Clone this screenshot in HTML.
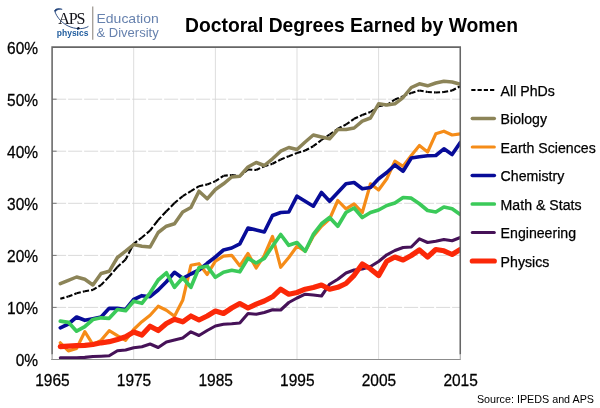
<!DOCTYPE html>
<html><head><meta charset="utf-8"><title>Doctoral Degrees Earned by Women</title>
<style>
html,body{margin:0;padding:0;background:#fff;}
body{width:600px;height:408px;position:relative;overflow:hidden;font-family:"Liberation Sans",sans-serif;}
svg text{font-family:"Liberation Sans",sans-serif;fill:#000;}
.ax,.lg{stroke:#000;stroke-width:0.25px;}
.ax{font-size:15.5px;}
.lg{font-size:14.15px;}
.ti{font-size:19.3px;font-weight:bold;}
.src{font-size:10.75px;}
svg text.aps{font-family:"Liberation Serif",serif;font-size:16px;letter-spacing:-1.1px;fill:#111118;}
svg text.phy{font-size:8.5px;font-weight:bold;fill:#1f5c9e;}
svg text.edu{font-size:13px;fill:#6782ae;}
</style></head><body>
<svg width="600" height="408" viewBox="0 0 600 408" style="position:absolute;left:0;top:0;will-change:transform;opacity:0.999">
<rect x="0" y="0" width="600" height="408" fill="#ffffff"/>
<line x1="133.7" y1="47.1" x2="133.7" y2="359.5" stroke="#d9d9d9" stroke-width="0.9"/>
<line x1="215.4" y1="47.1" x2="215.4" y2="359.5" stroke="#d9d9d9" stroke-width="0.9"/>
<line x1="297.0" y1="47.1" x2="297.0" y2="359.5" stroke="#d9d9d9" stroke-width="0.9"/>
<line x1="378.6" y1="47.1" x2="378.6" y2="359.5" stroke="#d9d9d9" stroke-width="0.9"/>
<line x1="52.1" y1="307.4" x2="460.25" y2="307.4" stroke="#d6d6d6" stroke-width="0.9" stroke-dasharray="14,2"/>
<line x1="52.1" y1="307.4" x2="56.6" y2="307.4" stroke="#777" stroke-width="1"/>
<line x1="52.1" y1="255.4" x2="460.25" y2="255.4" stroke="#d6d6d6" stroke-width="0.9" stroke-dasharray="14,2"/>
<line x1="52.1" y1="255.4" x2="56.6" y2="255.4" stroke="#777" stroke-width="1"/>
<line x1="52.1" y1="203.3" x2="460.25" y2="203.3" stroke="#d6d6d6" stroke-width="0.9" stroke-dasharray="14,2"/>
<line x1="52.1" y1="203.3" x2="56.6" y2="203.3" stroke="#777" stroke-width="1"/>
<line x1="52.1" y1="151.2" x2="460.25" y2="151.2" stroke="#d6d6d6" stroke-width="0.9" stroke-dasharray="14,2"/>
<line x1="52.1" y1="151.2" x2="56.6" y2="151.2" stroke="#777" stroke-width="1"/>
<line x1="52.1" y1="99.2" x2="460.25" y2="99.2" stroke="#d6d6d6" stroke-width="0.9" stroke-dasharray="14,2"/>
<line x1="52.1" y1="99.2" x2="56.6" y2="99.2" stroke="#777" stroke-width="1"/>
<clipPath id="cp"><rect x="52.1" y="47.1" width="408.54999999999995" height="312.9"/></clipPath>
<g clip-path="url(#cp)">
<g stroke="#000000" stroke-width="2.1" stroke-dasharray="4.3,2.1,1000" fill="none"><line x1="60.3" y1="298.8" x2="68.4" y2="296.5"/><line x1="68.4" y1="296.5" x2="76.6" y2="293.3"/><line x1="76.6" y1="293.3" x2="84.8" y2="291.3"/><line x1="84.8" y1="291.3" x2="92.9" y2="289.9"/><line x1="92.9" y1="289.9" x2="101.1" y2="285.0"/><line x1="101.1" y1="285.0" x2="109.2" y2="276.5"/><line x1="109.2" y1="276.5" x2="117.4" y2="267.0"/><line x1="117.4" y1="267.0" x2="125.6" y2="259.5"/><line x1="125.6" y1="259.5" x2="133.7" y2="243.8"/><line x1="133.7" y1="243.8" x2="141.9" y2="237.5"/><line x1="141.9" y1="237.5" x2="150.1" y2="230.5"/><line x1="150.1" y1="230.5" x2="158.2" y2="220.0"/><line x1="158.2" y1="220.0" x2="166.4" y2="211.2"/><line x1="166.4" y1="211.2" x2="174.5" y2="203.0"/><line x1="174.5" y1="203.0" x2="182.7" y2="196.2"/><line x1="182.7" y1="196.2" x2="190.9" y2="191.2"/><line x1="190.9" y1="191.2" x2="199.0" y2="186.2"/><line x1="199.0" y1="186.2" x2="207.2" y2="184.5"/><line x1="207.2" y1="184.5" x2="215.4" y2="181.2"/><line x1="215.4" y1="181.2" x2="223.5" y2="175.8"/><line x1="223.5" y1="175.8" x2="231.7" y2="175.0"/><line x1="231.7" y1="175.0" x2="239.8" y2="176.2"/><line x1="239.8" y1="176.2" x2="248.0" y2="169.5"/><line x1="248.0" y1="169.5" x2="256.2" y2="170.0"/><line x1="256.2" y1="170.0" x2="264.3" y2="166.2"/><line x1="264.3" y1="166.2" x2="272.5" y2="163.8"/><line x1="272.5" y1="163.8" x2="280.7" y2="159.5"/><line x1="280.7" y1="159.5" x2="288.8" y2="156.2"/><line x1="288.8" y1="156.2" x2="297.0" y2="153.0"/><line x1="297.0" y1="153.0" x2="305.2" y2="150.5"/><line x1="305.2" y1="150.5" x2="313.3" y2="146.2"/><line x1="313.3" y1="146.2" x2="321.5" y2="140.0"/><line x1="321.5" y1="140.0" x2="329.6" y2="134.5"/><line x1="329.6" y1="134.5" x2="337.8" y2="128.8"/><line x1="337.8" y1="128.8" x2="346.0" y2="124.5"/><line x1="346.0" y1="124.5" x2="354.1" y2="118.8"/><line x1="354.1" y1="118.8" x2="362.3" y2="115.0"/><line x1="362.3" y1="115.0" x2="370.5" y2="112.0"/><line x1="370.5" y1="112.0" x2="378.6" y2="106.2"/><line x1="378.6" y1="106.2" x2="386.8" y2="105.0"/><line x1="386.8" y1="105.0" x2="394.9" y2="99.5"/><line x1="394.9" y1="99.5" x2="403.1" y2="96.2"/><line x1="403.1" y1="96.2" x2="411.3" y2="93.0"/><line x1="411.3" y1="93.0" x2="419.4" y2="90.5"/><line x1="419.4" y1="90.5" x2="427.6" y2="92.0"/><line x1="427.6" y1="92.0" x2="435.8" y2="92.5"/><line x1="435.8" y1="92.5" x2="443.9" y2="92.0"/><line x1="443.9" y1="92.0" x2="452.1" y2="90.5"/><line x1="452.1" y1="90.5" x2="460.3" y2="86.2"/></g>
<path d="M60.3,283.7 L68.4,280.3 L76.6,277.0 L84.8,279.3 L92.9,285.0 L101.1,273.5 L109.2,271.3 L117.4,257.5 L125.6,251.2 L133.7,244.5 L141.9,246.2 L150.1,247.0 L158.2,232.5 L166.4,226.2 L174.5,223.8 L182.7,212.0 L190.9,207.5 L199.0,191.2 L207.2,198.8 L215.4,189.5 L223.5,183.8 L231.7,177.0 L239.8,176.2 L248.0,167.0 L256.2,162.5 L264.3,165.5 L272.5,158.8 L280.7,151.2 L288.8,147.5 L297.0,149.5 L305.2,142.0 L313.3,135.0 L321.5,137.0 L329.6,138.8 L337.8,129.5 L346.0,129.5 L354.1,128.0 L362.3,121.2 L370.5,118.0 L378.6,103.8 L386.8,105.0 L394.9,103.8 L403.1,97.5 L411.3,87.5 L419.4,83.8 L427.6,85.8 L435.8,83.0 L443.9,81.2 L452.1,82.0 L460.3,84.2" fill="none" stroke="#8c8458" stroke-width="3.5" stroke-linejoin="round" stroke-linecap="round"/>
<path d="M60.3,342.8 L68.4,351.0 L76.6,348.4 L84.8,331.7 L92.9,344.5 L101.1,340.3 L109.2,330.7 L117.4,335.7 L125.6,340.3 L133.7,329.5 L141.9,321.7 L150.1,315.3 L158.2,306.2 L166.4,310.3 L174.5,316.2 L182.7,300.3 L190.9,265.3 L199.0,263.7 L207.2,274.5 L215.4,261.2 L223.5,256.2 L231.7,255.3 L239.8,265.8 L248.0,253.5 L256.2,268.0 L264.3,255.5 L272.5,236.5 L280.7,267.3 L288.8,257.5 L297.0,246.2 L305.2,251.2 L313.3,236.2 L321.5,226.2 L329.6,219.0 L337.8,200.5 L346.0,208.8 L354.1,203.8 L362.3,212.5 L370.5,183.8 L378.6,190.0 L386.8,178.8 L394.9,161.2 L403.1,166.3 L411.3,155.5 L419.4,145.5 L427.6,152.0 L435.8,133.8 L443.9,131.2 L452.1,135.0 L460.3,133.8" fill="none" stroke="#f58c18" stroke-width="3.2" stroke-linejoin="round" stroke-linecap="round"/>
<path d="M60.3,327.8 L68.4,324.0 L76.6,317.0 L84.8,320.3 L92.9,318.7 L101.1,317.0 L109.2,308.3 L117.4,308.3 L125.6,309.5 L133.7,299.5 L141.9,295.7 L150.1,296.7 L158.2,290.0 L166.4,281.7 L174.5,272.3 L182.7,278.3 L190.9,274.0 L199.0,270.0 L207.2,263.3 L215.4,257.0 L223.5,250.0 L231.7,248.0 L239.8,243.8 L248.0,228.0 L256.2,230.0 L264.3,232.0 L272.5,215.5 L280.7,212.5 L288.8,212.0 L297.0,196.2 L305.2,201.2 L313.3,206.2 L321.5,192.5 L329.6,201.2 L337.8,192.5 L346.0,183.8 L354.1,182.5 L362.3,188.8 L370.5,187.5 L378.6,178.8 L386.8,172.5 L394.9,165.0 L403.1,171.2 L411.3,158.0 L419.4,156.8 L427.6,155.8 L435.8,155.5 L443.9,148.8 L452.1,154.5 L460.3,142.5" fill="none" stroke="#080c98" stroke-width="3.65" stroke-linejoin="round" stroke-linecap="round"/>
<path d="M60.3,321.2 L68.4,322.3 L76.6,331.2 L84.8,326.7 L92.9,319.5 L101.1,317.8 L109.2,318.3 L117.4,309.5 L125.6,310.7 L133.7,301.2 L141.9,303.3 L150.1,292.8 L158.2,280.0 L166.4,272.8 L174.5,287.3 L182.7,277.8 L190.9,287.3 L199.0,267.8 L207.2,266.2 L215.4,277.3 L223.5,272.3 L231.7,270.3 L239.8,271.8 L248.0,258.4 L256.2,263.0 L264.3,258.4 L272.5,246.2 L280.7,234.5 L288.8,245.3 L297.0,242.5 L305.2,251.2 L313.3,234.5 L321.5,223.8 L329.6,217.5 L337.8,226.2 L346.0,212.5 L354.1,208.0 L362.3,217.5 L370.5,212.5 L378.6,210.0 L386.8,205.5 L394.9,203.0 L403.1,197.5 L411.3,198.2 L419.4,203.8 L427.6,210.5 L435.8,212.0 L443.9,207.0 L452.1,208.8 L460.3,214.5" fill="none" stroke="#3bca59" stroke-width="3.7" stroke-linejoin="round" stroke-linecap="round"/>
<path d="M60.3,357.8 L68.4,357.8 L76.6,357.9 L84.8,357.4 L92.9,356.5 L101.1,356.2 L109.2,355.8 L117.4,350.7 L125.6,350.0 L133.7,347.8 L141.9,346.7 L150.1,344.0 L158.2,347.5 L166.4,342.0 L174.5,340.0 L182.7,338.0 L190.9,331.8 L199.0,335.5 L207.2,330.5 L215.4,326.0 L223.5,324.2 L231.7,323.8 L239.8,323.0 L248.0,313.5 L256.2,314.2 L264.3,312.5 L272.5,309.8 L280.7,310.0 L288.8,302.5 L297.0,298.0 L305.2,294.2 L313.3,295.0 L321.5,296.0 L329.6,284.2 L337.8,279.2 L346.0,273.0 L354.1,270.0 L362.3,269.0 L370.5,266.5 L378.6,261.5 L386.8,254.8 L394.9,250.5 L403.1,247.5 L411.3,247.0 L419.4,238.8 L427.6,242.5 L435.8,241.2 L443.9,239.5 L452.1,240.8 L460.3,237.5" fill="none" stroke="#461258" stroke-width="3.1" stroke-linejoin="round" stroke-linecap="round"/>
<path d="M60.3,346.7 L68.4,346.2 L76.6,345.7 L84.8,345.3 L92.9,344.5 L101.1,342.8 L109.2,341.7 L117.4,339.5 L125.6,336.7 L133.7,332.0 L141.9,335.0 L150.1,326.2 L158.2,330.5 L166.4,323.5 L174.5,319.2 L182.7,321.8 L190.9,316.0 L199.0,320.0 L207.2,316.0 L215.4,311.0 L223.5,313.5 L231.7,308.0 L239.8,303.5 L248.0,308.0 L256.2,304.2 L264.3,301.0 L272.5,296.8 L280.7,289.2 L288.8,294.2 L297.0,292.5 L305.2,289.2 L313.3,287.5 L321.5,285.0 L329.6,289.2 L337.8,287.3 L346.0,283.5 L354.1,275.3 L362.3,263.9 L370.5,268.9 L378.6,275.6 L386.8,261.2 L394.9,257.0 L403.1,260.0 L411.3,255.5 L419.4,250.0 L427.6,257.0 L435.8,249.5 L443.9,250.8 L452.1,254.5 L460.3,249.5" fill="none" stroke="#fb2808" stroke-width="5.2" stroke-linejoin="round" stroke-linecap="round"/>
</g>
<line x1="51.2" y1="359.5" x2="460.75" y2="359.5" stroke="#8c8c8c" stroke-width="1"/>
<path d="M52.1,354.5 L52.1,47.1 L460.25,47.1 L460.25,354.5" fill="none" stroke="#666666" stroke-width="1.55" stroke-linejoin="miter"/>
<line x1="52.1" y1="354.5" x2="52.1" y2="359.5" stroke="#9a9a9a" stroke-width="1.1"/>
<line x1="460.25" y1="354.5" x2="460.25" y2="359.5" stroke="#a0a0a0" stroke-width="1"/>
<line x1="471.3" y1="90.0" x2="495.3" y2="90.0" stroke="#000000" stroke-width="1.8" stroke-dasharray="4.2,2.05"/>
<text x="500.6" y="95.7" class="lg">All PhDs</text>
<line x1="472.3" y1="118.5" x2="494.3" y2="118.5" stroke="#8c8458" stroke-width="3.5" stroke-linecap="round"/>
<text x="500.6" y="124.2" class="lg">Biology</text>
<line x1="472.3" y1="147.0" x2="494.3" y2="147.0" stroke="#f58c18" stroke-width="3.2" stroke-linecap="round"/>
<text x="500.6" y="152.7" class="lg">Earth Sciences</text>
<line x1="472.3" y1="175.5" x2="494.3" y2="175.5" stroke="#080c98" stroke-width="3.65" stroke-linecap="round"/>
<text x="500.6" y="181.2" class="lg">Chemistry</text>
<line x1="472.3" y1="204.0" x2="494.3" y2="204.0" stroke="#3bca59" stroke-width="3.7" stroke-linecap="round"/>
<text x="500.6" y="209.7" class="lg">Math &amp; Stats</text>
<line x1="472.3" y1="232.5" x2="494.3" y2="232.5" stroke="#461258" stroke-width="3.1" stroke-linecap="round"/>
<text x="500.6" y="238.2" class="lg">Engineering</text>
<line x1="472.3" y1="261.0" x2="494.3" y2="261.0" stroke="#fb2808" stroke-width="5.2" stroke-linecap="round"/>
<text x="500.6" y="266.7" class="lg">Physics</text>
<text transform="translate(38.1,365.9) scale(1,1.05)" text-anchor="end" class="ax">0%</text>
<text transform="translate(38.1,313.8) scale(1,1.05)" text-anchor="end" class="ax">10%</text>
<text transform="translate(38.1,261.8) scale(1,1.05)" text-anchor="end" class="ax">20%</text>
<text transform="translate(38.1,209.7) scale(1,1.05)" text-anchor="end" class="ax">30%</text>
<text transform="translate(38.1,157.6) scale(1,1.05)" text-anchor="end" class="ax">40%</text>
<text transform="translate(38.1,105.6) scale(1,1.05)" text-anchor="end" class="ax">50%</text>
<text transform="translate(38.1,53.5) scale(1,1.05)" text-anchor="end" class="ax">60%</text>
<text transform="translate(52.4,385.9) scale(1,1.05)" text-anchor="middle" class="ax">1965</text>
<text transform="translate(134.0,385.9) scale(1,1.05)" text-anchor="middle" class="ax">1975</text>
<text transform="translate(215.7,385.9) scale(1,1.05)" text-anchor="middle" class="ax">1985</text>
<text transform="translate(297.3,385.9) scale(1,1.05)" text-anchor="middle" class="ax">1995</text>
<text transform="translate(378.9,385.9) scale(1,1.05)" text-anchor="middle" class="ax">2005</text>
<text transform="translate(460.6,385.9) scale(1,1.05)" text-anchor="middle" class="ax">2015</text>
<text x="351.5" y="32.0" text-anchor="middle" class="ti">Doctoral Degrees Earned by Women</text>
<text x="594" y="402.8" text-anchor="end" class="src">Source: IPEDS and APS</text>
<g id="logo">
<path d="M54.6,10.6 C56.5,17.5 63,24.5 71,27.2 C77.5,29.4 84.5,29 88.4,26.4" fill="none" stroke="#1d3f78" stroke-width="0.9"/>
<path d="M54.6,10.8 C55.2,8.6 58.5,7.9 62.2,9.3 C59.5,8.9 56.8,9.4 55.6,11.6 Z" fill="#1d3f78" stroke="#1d3f78" stroke-width="0.6"/>
<circle cx="78.4" cy="28.3" r="1.2" fill="#101830"/>
<text x="58.2" y="23.6" class="aps">APS</text>
<text x="56.8" y="36.0" class="phy" textLength="31.6" lengthAdjust="spacingAndGlyphs">physics</text>
<line x1="92.7" y1="6.5" x2="92.7" y2="39.7" stroke="#a7a29c" stroke-width="1.4"/>
<text x="96.5" y="23.0" class="edu" textLength="62.2" lengthAdjust="spacingAndGlyphs">Education</text>
<text x="96.5" y="36.5" class="edu" textLength="62.2" lengthAdjust="spacingAndGlyphs">&amp; Diversity</text>
</g>
</svg>
</body></html>
